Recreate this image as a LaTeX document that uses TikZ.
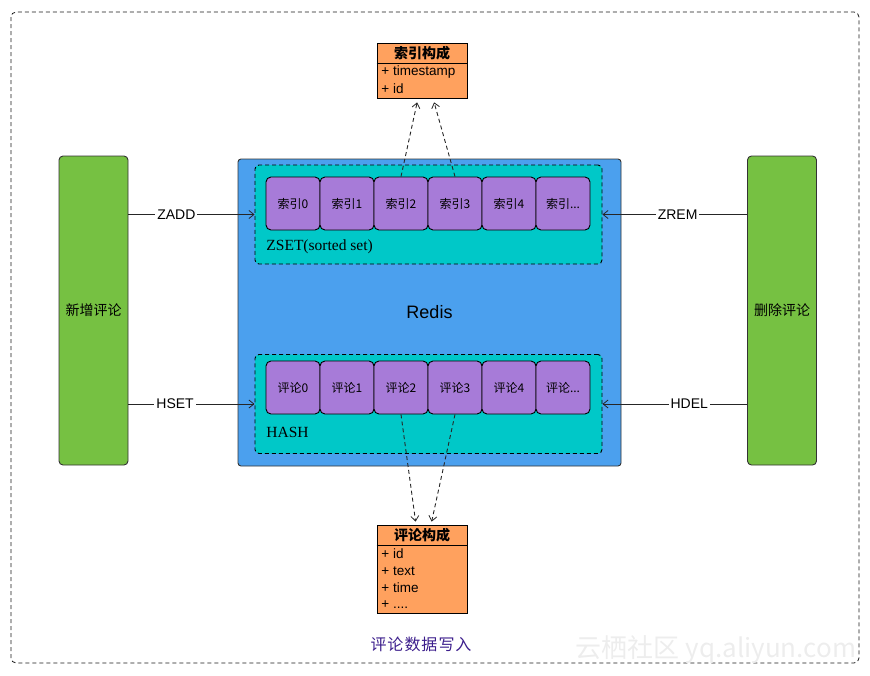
\documentclass[tikz,border=0pt]{standalone}
\usepackage{fontspec}
\setmainfont{Liberation Sans}
\newfontfamily\cjk{Noto Sans CJK SC}
\newfontfamily\serifz{Liberation Serif}
\usetikzlibrary{arrows.meta}
\definecolor{gbox}{HTML}{76C142}
\definecolor{rbox}{HTML}{4BA0EE}
\definecolor{tbox}{HTML}{00C8C8}
\definecolor{pbox}{HTML}{A77BD8}
\definecolor{obox}{HTML}{FFA15E}
\definecolor{capc}{HTML}{3C1E8C}
\begin{document}
\begin{tikzpicture}[x=1pt,y=-1pt, line width=0.9pt,
  dsh/.style={dash pattern=on 4pt off 3pt},
  sidebox/.style={draw=black!80, fill=gbox, rounded corners=4pt, minimum width=69pt, minimum height=309pt, inner sep=0pt, font=\cjk\fontsize{14}{16}\selectfont},
  redisbox/.style={draw=black!80, fill=rbox, rounded corners=3pt, minimum width=383pt, minimum height=307pt, inner sep=0pt, font=\fontsize{18}{20}\selectfont},
  contbox/.style={draw=black, dsh, fill=tbox, rounded corners=4pt, minimum width=347pt, minimum height=99pt, inner sep=0pt},
  cellbox/.style={draw=black, fill=pbox, rounded corners=5pt, minimum width=54pt, minimum height=53pt, inner sep=0pt, font=\cjk\fontsize{12}{14}\selectfont},
  umlbox/.style={draw=black, fill=obox, minimum width=90pt, inner sep=0pt},
  umlhead/.style={font=\cjk\bfseries\fontsize{14}{16}\selectfont, inner sep=0pt},
  umlitem/.style={anchor=west, inner sep=0pt, font=\fontsize{13.5}{15}\selectfont},
  arr/.style={draw=black!85, -{Straight Barb[length=5pt,width=8pt,line width=0.8pt]}},
  darr/.style={draw=black!85, dsh, -{Straight Barb[length=5pt,width=8pt,line width=0.8pt]}},
  lbl/.style={fill=white, inner sep=2pt, font=\fontsize{14}{16}\selectfont},
  conttext/.style={anchor=west, inner sep=0pt, font=\serifz\fontsize{15.5}{17}\selectfont}
]
\useasboundingbox (0,0) rectangle (870,675);
% outer frame
\draw[dsh, black!90, line width=0.8pt, rounded corners=5pt] (11,12) rectangle (859,663);
% watermark
\node[inner sep=0pt, text=black!7, font=\cjk\fontsize{26}{28}\selectfont] (wm) at (716,650) {云栖社区 yq.aliyun.com};

% side boxes
\node[sidebox] (add) at (93.5,310.5) {新增评论};
\node[sidebox] (del) at (782,310.5) {删除评论};

% redis
\node[redisbox] (redis) at (429.5,312.5) {Redis};

% containers
\node[contbox] (zset) at (428.5,214.5) {};
\node[contbox] (hash) at (428.5,404) {};
\node[conttext] (zsetl) at (266,247) {ZSET(sorted set)};
\node[conttext] (hashl) at (266,432) {HASH};

% cells
\foreach \i in {0,1,2,3,4} {
  \node[cellbox] (z\i) at (293+54*\i,203.5) {索引\i};
  \node[cellbox] (h\i) at (293+54*\i,387.5) {评论\i};
}
\node[cellbox] (z5) at (563,203.5) {索引.{}.{}.};
\node[cellbox] (h5) at (563,387.5) {评论.{}.{}.};

% uml boxes
\node[umlbox, minimum height=55pt] (idx) at (422,70.5) {};
\draw (idx.west |- 0,63) coordinate (idxl) -- (idx.east |- 0,63) coordinate (idxr);
\node[umlhead] (idxh) at (422,53) {索引构成};
\node[umlitem] (idx1) at (381,72) {+ timestamp};
\node[umlitem] (idx2) at (381,89) {+ id};

\node[umlbox, minimum height=88pt] (cmt) at (422,569) {};
\draw (cmt.west |- 0,545) coordinate (cmtl) -- (cmt.east |- 0,545) coordinate (cmtr);
\node[umlhead] (cmth) at (422,535) {评论构成};
\node[umlitem] (cmt1) at (381,554) {+ id};
\node[umlitem] (cmt2) at (381,571) {+ text};
\node[umlitem] (cmt3) at (381,588) {+ time};
\node[umlitem] (cmt4) at (381,605) {+ .{}.{}.{}.};

% arrows
\draw[arr] (add.east |- zset.west) -- node[lbl, pos=0.38] {ZADD} (zset.west);
\draw[arr] (add.east |- hash.west) -- node[lbl, pos=0.37] {HSET} (hash.west);
\draw[arr] (del.west |- zset.east) -- node[lbl, pos=0.48] {ZREM} (zset.east);
\draw[arr] (del.west |- hash.east) -- node[lbl, pos=0.4] {HDEL} (hash.east);

\draw[darr, shorten >=4pt] (z2.north) -- ([xshift=-4pt]idx.south);
\draw[darr, shorten >=4pt] (z3.north) -- ([xshift=11pt]idx.south);
\draw[darr, shorten >=3pt] (h2.south) -- ([xshift=-6pt]cmt.north);
\draw[darr, shorten >=3pt] (h3.south) -- ([xshift=9pt]cmt.north);

% caption
\node[inner sep=0pt, text=capc, font=\cjk\fontsize{16}{18}\selectfont] (cap) at (421,644) {评\kern1pt 论\kern1pt 数\kern1pt 据\kern1pt 写\kern1pt 入};
\end{tikzpicture}
\end{document}
